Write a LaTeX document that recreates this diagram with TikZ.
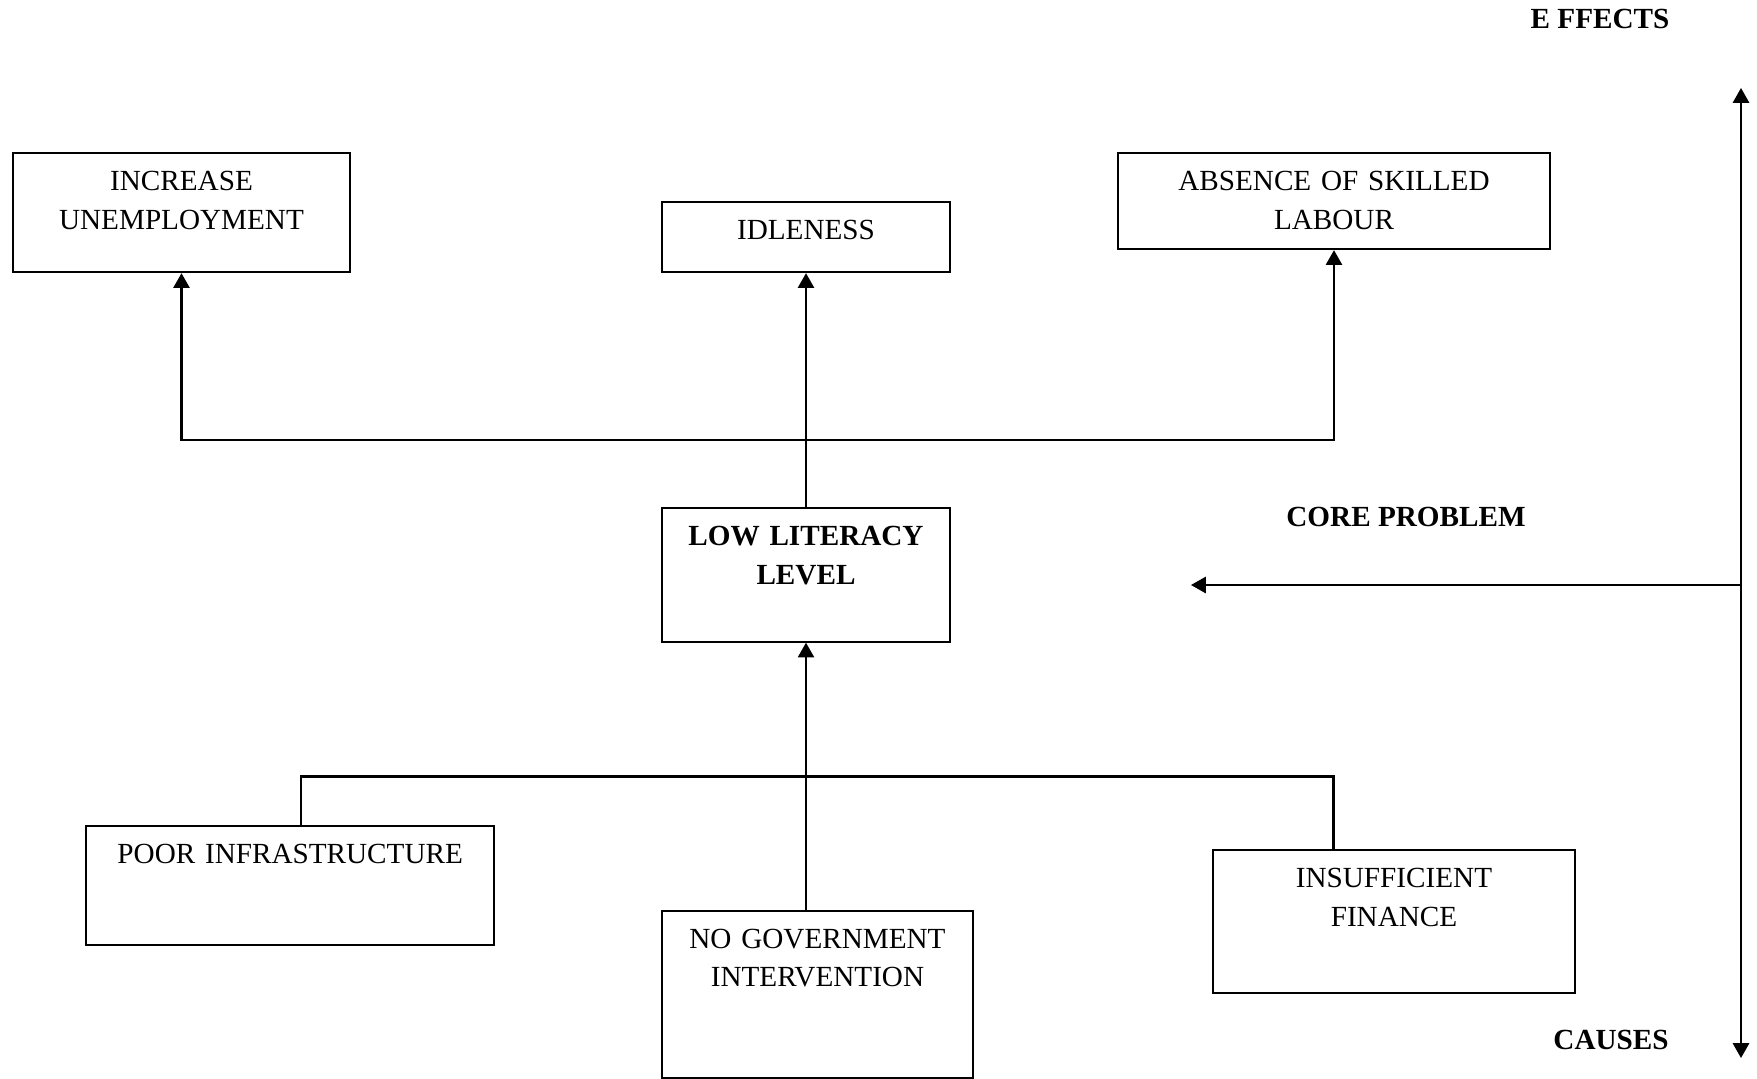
\documentclass[tikz,border=0pt]{standalone}
\usepackage{fontspec}
\setmainfont{Liberation Serif}
\usetikzlibrary{arrows.meta}

\tikzset{
  box/.style={draw, line width=0.6pt, anchor=north, inner xsep=0pt, inner ysep=0pt,
    align=center, text height=0.377cm, font=\fontsize{8.3}{10.95}\selectfont},
  head/.style={font=\fontsize{8.3}{10.95}\selectfont\bfseries},
  arr/.style={line width=0.6pt, -{Triangle[length=4.2pt,width=4.6pt]}},
  link/.style={line width=0.6pt}
}

\begin{document}
\begin{tikzpicture}[x=0.01cm, y=-0.01cm]
  \useasboundingbox (0,0) rectangle (1757,1078);

  %% effects
  \node[box, text width=3.36cm, text depth=0.813cm] (unemp) at (181.5,152) {INCREASE\\UNEMPLOYMENT};
  \node[box, text width=2.88cm, text depth=0.323cm] (idle) at (806,201) {IDLENESS};
  \node[box, text width=4.32cm, text depth=0.583cm] (skill) at (1334,152) {ABSENCE OF SKILLED\\LABOUR};

  %% core problem
  \node[box, text width=2.88cm, text depth=0.958cm, font=\fontsize{8.3}{10.95}\selectfont\bfseries] (lowlit) at (806,507) {LOW LITERACY\\LEVEL};

  %% causes
  \node[box, text width=4.08cm, text depth=0.809cm] (infra) at (290.2,825) {POOR INFRASTRUCTURE};
  \node[box, text width=3.116cm, text depth=1.293cm] (govt) at (817.5,909.5) {NO GOVERNMENT\\INTERVENTION};
  \node[box, text width=3.61cm, text depth=1.057cm] (finance) at (1394,848.8) {INSUFFICIENT\\FINANCE};

  %% effect links
  \coordinate (effbus) at (806,440);
  \draw[arr] (lowlit.north) -- (idle.south);
  \draw[arr] (effbus) -| (unemp.south);
  \draw[arr] (effbus) -| (skill.south);

  %% cause links
  \coordinate (causebus) at (806,776.5);
  \draw[arr] (lowlit.south |- govt.north) -- (lowlit.south);
  \draw[link] ([xshift=0.112cm]infra.north) |- (causebus);
  \draw[link] ([xshift=-0.605cm]finance.north) |- (causebus);

  %% side axis
  \coordinate (efftop) at (1741,88);
  \coordinate (causebot) at (1741,1058);
  \coordinate (coremid) at (1741,585);
  \coordinate (coretip) at (1191,585);
  \draw[arr, {Triangle[length=4.2pt,width=4.6pt]}-{Triangle[length=4.2pt,width=4.6pt]}] (efftop) -- (causebot);
  \draw[arr] (coremid) -- (coretip);

  %% labels
  \node[head] (efflabel) at (1600,19) {E FFECTS};
  \node[head] (corelabel) at (1406,517) {CORE PROBLEM};
  \node[head] (causelabel) at (1611,1040) {CAUSES};
\end{tikzpicture}
\end{document}
